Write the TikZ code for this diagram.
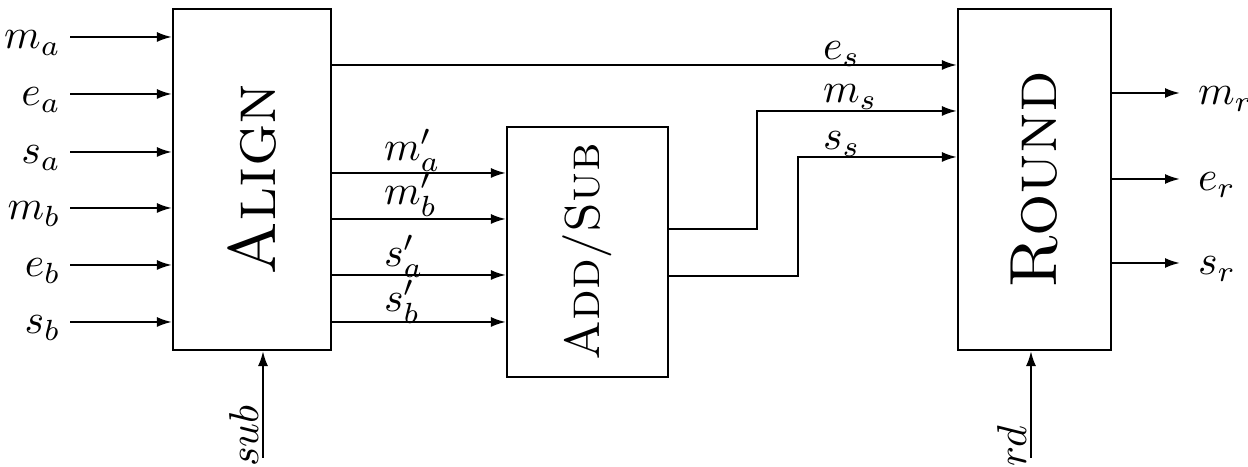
\documentclass[tikz,border=0pt]{standalone}
\usetikzlibrary{arrows.meta,fit}
\begin{document}
\begin{tikzpicture}[x=0.24pt,y=-0.24pt, line width=0.5pt,
  arr/.style={-{Latex[length=3.6pt,width=2.4pt]}},
  blk/.style={draw, rectangle, inner sep=0pt},
  lbl/.style={inner sep=0pt},
  bigtxt/.style={inner sep=0pt, rotate=90, font=\fontsize{16}{19}\selectfont},
  midtxt/.style={inner sep=0pt, rotate=90, font=\fontsize{11.8}{14}\selectfont},
]
\useasboundingbox (0,0) rectangle (1248,467);
% blocks
\node[blk, fit={(173,9) (331,350)}] (align) {};
\node[blk, fit={(507,127) (668,377)}] (addsub) {};
\node[blk, fit={(958,9) (1111,350)}] (round) {};
\node[bigtxt] (aligntxt) at (align.center) {\textsc{Align}};
\node[midtxt] (addsubtxt) at (addsub.center) {\textsc{Add/Sub}};
\node[bigtxt] (roundtxt) at (round.center) {\textsc{Round}};
% inputs of ALIGN
\foreach \t/\y [count=\i] in {m_a/37, e_a/94, s_a/152, m_b/208, e_b/265, s_b/322} {
  \coordinate (in\i) at (70,\y);
  \node[lbl, anchor=base east] (inl\i) at (62,\y+12) {$\t$};
  \draw[arr] (in\i) -- (in\i -| align.west);
}
% ALIGN -> ADD/SUB
\foreach \t/\y/\d [count=\i] in {m'_a/173/12, m'_b/219/14, s'_a/275/8, s'_b/322/10} {
  \coordinate (mid\i) at (331,\y);
  \draw[arr] (mid\i -| align.east) -- (mid\i -| addsub.west);
  \node[lbl, anchor=base west] (midl\i) at (383,\y-\d) {$\t$};
}
% e_s
\coordinate (es) at (331,65);
\draw[arr] (es -| align.east) -- (es -| round.west);
\node[lbl, anchor=base west] (esl) at (822,60) {$e_s$};
% m_s
\coordinate (ms0) at (668,229);
\coordinate (ms1) at (757,111);
\draw[arr] (ms0 -| addsub.east) -| (ms1) -- (ms1 -| round.west);
\node[lbl, anchor=base west] (msl) at (822,103) {$m_s$};
% s_s
\coordinate (ss0) at (668,276);
\coordinate (ss1) at (798,157);
\draw[arr] (ss0 -| addsub.east) -| (ss1) -- (ss1 -| round.west);
\node[lbl, anchor=base west] (ssl) at (822,150) {$s_s$};
% outputs of ROUND
\foreach \t/\y [count=\i] in {m_r/93, e_r/179, s_r/263} {
  \coordinate (out\i) at (1180,\y);
  \draw[arr] (out\i -| round.east) -- (out\i);
  \node[lbl, anchor=base west] (outl\i) at (1197,\y+12) {$\t$};
}
% control inputs
\coordinate (subin) at (263,458);
\draw[arr] (subin) -- (subin |- align.south);
\node[lbl, rotate=90, anchor=base west] (subl) at (258,468) {$sub$};
\coordinate (rdin) at (1031,458);
\draw[arr] (rdin) -- (rdin |- round.south);
\node[lbl, rotate=90, anchor=base west] (rdl) at (1026,468) {$rd$};
\end{tikzpicture}
\end{document}
